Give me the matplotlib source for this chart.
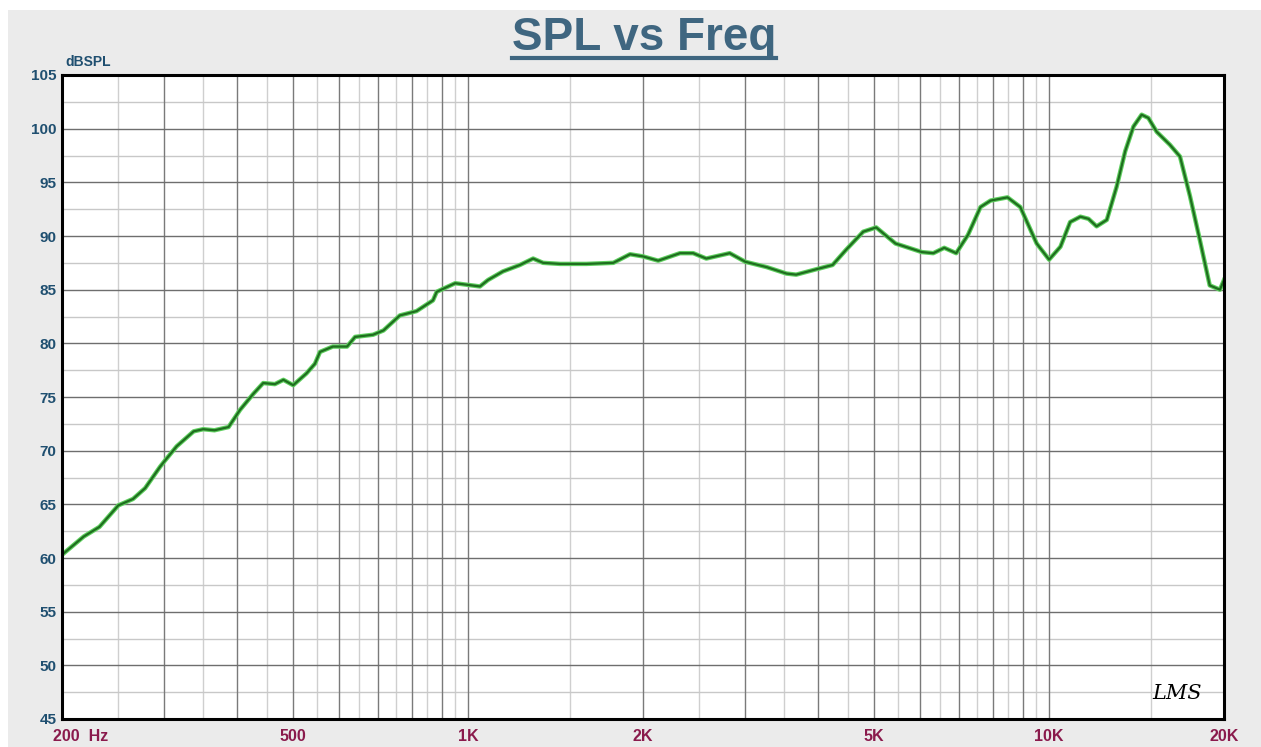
import matplotlib
matplotlib.use("Agg")
import matplotlib.pyplot as plt
from matplotlib.patches import Rectangle
from matplotlib.lines import Line2D
from matplotlib.ticker import FixedLocator, NullFormatter
import matplotlib.transforms as mtransforms

# ---------------- data ----------------
freq_hz = [200, 218, 232, 250, 265, 278, 295, 300, 315, 337,
           350, 366, 387, 405, 427, 444, 465, 481, 500, 527,
           545, 556, 585, 619, 639, 686, 715, 763, 815, 870,
           883, 950, 1048, 1082, 1148, 1228, 1294, 1346, 1440, 1598,
           1778, 1900, 2000, 2124, 2316, 2440, 2570, 2820, 3000, 3266,
           3532, 3670, 3974, 4240, 4470, 4787, 5040, 5440, 6040, 6320,
           6600, 6920, 7250, 7620, 7930, 8480, 8920, 9520, 10000, 10460,
           10870, 11320, 11690, 12070, 12570, 13070, 13520, 13970, 14430, 14820,
           15320, 16140, 16800, 17480, 18180, 18900, 19680, 20000]
spl_db = [60.3, 62.0, 62.9, 64.9, 65.5, 66.5, 68.5, 69.0, 70.4, 71.8,
          72.0, 71.9, 72.2, 73.8, 75.3, 76.3, 76.2, 76.6, 76.1, 77.2,
          78.1, 79.2, 79.7, 79.7, 80.6, 80.8, 81.2, 82.6, 83.0, 84.0,
          84.8, 85.6, 85.3, 85.9, 86.7, 87.3, 87.9, 87.5, 87.4, 87.4,
          87.5, 88.3, 88.1, 87.7, 88.4, 88.4, 87.9, 88.4, 87.6, 87.1,
          86.5, 86.4, 86.9, 87.3, 88.7, 90.4, 90.8, 89.3, 88.5, 88.4,
          88.9, 88.4, 90.1, 92.7, 93.3, 93.6, 92.7, 89.3, 87.8, 89.0,
          91.3, 91.8, 91.6, 90.9, 91.5, 94.6, 97.9, 100.2, 101.3, 101.0,
          99.7, 98.5, 97.4, 93.7, 89.6, 85.4, 85.0, 85.9]

xtick_vals = [200, 500, 1000, 2000, 5000, 10000, 20000]
xtick_labels = ["200  Hz", "500", "1K", "2K", "5K", "10K", "20K"]
ytick_vals = [45, 50, 55, 60, 65, 70, 75, 80, 85, 90, 95, 100, 105]
ytick_labels = [str(v) for v in ytick_vals]
x_major_grid = [300, 400, 500, 600, 700, 800, 900, 1000,
                2000, 3000, 4000, 5000, 6000, 7000, 8000, 9000, 10000]
x_minor_grid = [250, 350, 450, 550, 650, 750, 850, 950,
                1500, 2500, 3500, 4500, 5500, 6500, 7500, 8500, 9500, 15000]
y_minor_grid = [47.5, 52.5, 57.5, 62.5, 67.5, 72.5, 77.5, 82.5, 87.5, 92.5, 97.5, 102.5]

W, H = 1261, 747
fig = plt.figure(figsize=(W / 100, H / 100), dpi=100, facecolor="white")
fig.patches.append(Rectangle((8 / W, 0), 1, (H - 10) / H, transform=fig.transFigure,
                             facecolor="#ebebeb", edgecolor="none", zorder=-10))

ax = fig.add_axes([62 / W, (H - 719) / H, (1224 - 62) / W, (719 - 75) / H])
ax.set_facecolor("white")
ax.set_xscale("log")
ax.set_xlim(200, 20000)
ax.set_ylim(45, 105)

# grid
for v in x_minor_grid:
    ax.axvline(v, color="#cfcfcf", lw=1.0, zorder=1)
for v in x_major_grid:
    ax.axvline(v, color="#7a7a7a", lw=1.0, zorder=1.5)
for v in y_minor_grid:
    ax.axhline(v, color="#c8c8c8", lw=1.0, zorder=1)
for v in ytick_vals[1:-1]:
    ax.axhline(v, color="#6e6e6e", lw=1.0, zorder=1.5)

# curve
ax.plot(freq_hz, spl_db, color="#5fcf5f", lw=3.2, solid_joinstyle="round", zorder=3)
ax.plot(freq_hz, spl_db, color="#1f6e1f", lw=1.6, solid_joinstyle="round", zorder=4)

for s in ax.spines.values():
    s.set_color("black")
    s.set_linewidth(2.2)
    s.set_zorder(5)

tick_font = ["Liberation Sans", "DejaVu Sans"]
ax.xaxis.set_major_locator(FixedLocator(xtick_vals))
ax.xaxis.set_minor_formatter(NullFormatter())
ax.xaxis.set_minor_locator(FixedLocator([]))
ax.set_xticklabels(xtick_labels)
ax.set_yticks(ytick_vals)
ax.set_yticklabels(ytick_labels)
ax.tick_params(axis="both", length=0)
ax.tick_params(axis="x", pad=7)
ax.tick_params(axis="y", pad=4)
for lab in ax.get_xticklabels():
    lab.set_family(tick_font)
    lab.set_fontweight("bold")
    lab.set_fontsize(11.5)
    lab.set_color("#8a1a4c")
for lab in ax.get_yticklabels():
    lab.set_family(tick_font)
    lab.set_fontweight("bold")
    lab.set_fontsize(11)
    lab.set_color("#1f4f70")
first = ax.get_xticklabels()[0]
first.set_horizontalalignment("left")
first.set_transform(first.get_transform() + mtransforms.ScaledTranslation(-9 / 100, 0, fig.dpi_scale_trans))

fig.text(65 / W, 1 - 62 / H, "dBSPL", family=tick_font, fontweight="bold", fontsize=10,
         color="#1f4f70", ha="left", va="center")

title = fig.text(644 / W, 1 - 38 / H, "SPL vs Freq", family=["Liberation Sans", "DejaVu Sans"],
                 fontweight="bold", fontsize=33, color="#3f6680", ha="center", va="center")

ax.text(0.960, 0.040, "LMS", fontsize=15, fontstyle="italic", family=["DejaVu Serif"],
        color="black", ha="center", va="center", transform=ax.transAxes, zorder=6)

fig.canvas.draw()
bb = title.get_window_extent(fig.canvas.get_renderer())
yline = 1 - 58 / H
fig.add_artist(Line2D([bb.x0 / W, bb.x1 / W], [yline, yline], transform=fig.transFigure,
                      color="#3f6680", lw=3.0))

fig.savefig("out.png", dpi=100, facecolor=fig.get_facecolor())
